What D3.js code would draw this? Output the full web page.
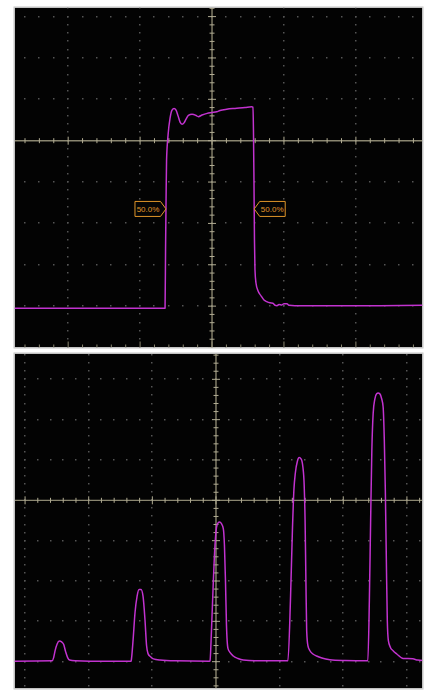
<!DOCTYPE html>
<html>
<head>
<meta charset="utf-8">
<script src="https://cdn.jsdelivr.net/npm/d3@7"></script>
<style>
  body { margin: 0; background: #fff; }
  svg { display: block; }
</style>
</head>
<body>
<script>
// all values in graticule divisions

// top capture: single pulse
const stepTime = [-2.8, -0.653, -0.646, -0.639, -0.632, -0.611, -0.583, -0.556, -0.528, -0.5,
  -0.472, -0.444, -0.417, -0.389, -0.361, -0.329, -0.278, -0.222, -0.19, -0.139,
  -0.069, 0, 0.065, 0.111, 0.204, 0.319, 0.458, 0.551, 0.569, 0.576,
  0.583, 0.59, 0.597, 0.611, 0.639, 0.681, 0.722, 0.76, 0.806, 0.847,
  0.875, 0.903, 0.931, 0.972, 1.0, 1.042, 1.069, 1.153, 1.361, 1.778, 2.333, 2.95];
const stepVolt = [-4.05, -4.05, -2.64, -1.43, -0.47, 0.14, 0.55, 0.74, 0.78, 0.74,
  0.6, 0.45, 0.4, 0.43, 0.52, 0.61, 0.64, 0.61, 0.58, 0.62,
  0.66, 0.68, 0.7, 0.73, 0.76, 0.78, 0.8, 0.82, 0.81, 0.26,
  -0.95, -2.4, -3.12, -3.44, -3.63, -3.75, -3.85, -3.89, -3.92, -3.93,
  -3.98, -3.99, -3.96, -3.97, -3.94, -3.94, -3.98, -3.99, -3.99, -3.99, -3.99, -3.98];
const stepXRange = [-2.746, 2.926];
const stepYRange = [-5, 3.22];
const refLevels = [-4.05, 0.75];   // low / high for the measurement
const refPercent = 50.0;

// bottom capture: burst of five pulses
const burstTime = [-3.2, -2.575, -2.551, -2.527, -2.496, -2.46, -2.425, -2.394, -2.363, -2.331,
  -2.3, -2.214, -1.978, -1.334,
  -1.327, -1.303, -1.272, -1.24, -1.209, -1.177, -1.146, -1.115, -1.091, -1.068,
  -1.028, -0.984, -0.879, -0.644, -0.102,
  -0.094, -0.071, -0.047, -0.016, 0.008, 0.031, 0.055, 0.086, 0.115, 0.133,
  0.149, 0.165, 0.188, 0.22, 0.272, 0.345, 0.429, 0.612, 1.122,
  1.13, 1.17, 1.201, 1.224, 1.248, 1.279, 1.308, 1.339, 1.366, 1.386,
  1.4, 1.413, 1.425, 1.444, 1.476, 1.523, 1.581, 1.664, 1.79, 2.025, 2.378,
  2.386, 2.41, 2.43, 2.449, 2.47, 2.496, 2.524, 2.548, 2.575, 2.601,
  2.626, 2.645, 2.661, 2.677, 2.692, 2.708, 2.739, 2.783, 2.841, 2.94,
  3.014, 3.093, 3.171, 3.26];
const burstVolt = [-3.99, -3.98, -3.9, -3.72, -3.56, -3.49, -3.51, -3.57, -3.75, -3.9,
  -3.96, -3.98, -3.99, -3.99,
  -3.92, -3.47, -2.78, -2.38, -2.21, -2.21, -2.38, -2.98, -3.6, -3.8,
  -3.88, -3.93, -3.96, -3.98, -3.99,
  -3.98, -3.23, -2.23, -1.12, -0.67, -0.56, -0.54, -0.58, -0.7, -1.12,
  -1.99, -3.1, -3.67, -3.77, -3.86, -3.92, -3.96, -3.98, -3.98,
  -3.98, -2.48, -0.74, 0.25, 0.69, 0.97, 1.06, 1.02, 0.82, 0.37,
  -0.5, -1.99, -3.23, -3.6, -3.73, -3.81, -3.86, -3.91, -3.95, -3.97, -3.98,
  -3.98, -2.48, -0.5, 1.24, 2.16, 2.51, 2.64, 2.66, 2.64, 2.53,
  2.32, 1.49, 0.25, -1.49, -2.98, -3.47, -3.64, -3.73, -3.81, -3.92,
  -3.92, -3.93, -3.96, -3.97];
const burstXRange = [-3.166, 3.245];
const burstYRange = [-4.665, 3.64];

const traceColor = '#c233cf';
const gridDot = '#555555';
const axisColor = '#8a8670';
const axisTick = '#b2ad94';
const labelColor = '#e0962a';

const svg = d3.select('body').append('svg')
  .attr('width', 431)
  .attr('height', 690);

function drawPanel(id, box, xDom, yDom, time, volt, edgeTicks) {
  const x = d3.scaleLinear().domain(xDom).range([box.x, box.x + box.w]);
  const y = d3.scaleLinear().domain(yDom).range([box.y + box.h, box.y]);

  svg.append('clipPath').attr('id', id)
    .append('rect')
    .attr('x', box.x).attr('y', box.y)
    .attr('width', box.w).attr('height', box.h);

  const g = svg.append('g').attr('clip-path', `url(#${id})`);

  g.append('rect')
    .attr('x', box.x).attr('y', box.y)
    .attr('width', box.w).attr('height', box.h)
    .attr('fill', '#030303');

  const majX = d3.range(Math.ceil(xDom[0]), Math.floor(xDom[1]) + 1);
  const majY = d3.range(Math.ceil(yDom[0]), Math.floor(yDom[1]) + 1);
  const minX = d3.range(Math.ceil(xDom[0] * 5), Math.floor(xDom[1] * 5) + 1).map(v => v / 5);
  const minY = d3.range(Math.ceil(yDom[0] * 5), Math.floor(yDom[1] * 5) + 1).map(v => v / 5);

  // dotted graticule
  const dots = [];
  majY.filter(v => v !== 0).forEach(r => minX.forEach(c => dots.push([c, r])));
  majX.filter(v => v !== 0).forEach(c => minY.forEach(r => dots.push([c, r])));
  g.append('g').selectAll('rect')
    .data(dots)
    .enter().append('rect')
    .attr('x', d => Math.round(x(d[0])) - 1)
    .attr('y', d => Math.round(y(d[1])) - 1)
    .attr('width', 1.5)
    .attr('height', 1.5)
    .attr('fill', gridDot);

  // centre axes with ticks
  g.append('line')
    .attr('x1', x(0)).attr('x2', x(0))
    .attr('y1', box.y).attr('y2', box.y + box.h)
    .attr('stroke', axisColor).attr('stroke-width', 1.4);
  g.append('line')
    .attr('x1', box.x).attr('x2', box.x + box.w)
    .attr('y1', y(0)).attr('y2', y(0))
    .attr('stroke', axisColor).attr('stroke-width', 1.4);

  const isMajor = v => Math.abs(v - Math.round(v)) < 1e-6;
  g.append('g').selectAll('line')
    .data(minY)
    .enter().append('line')
    .attr('x1', d => x(0) - (isMajor(d) ? 4 : 2.5))
    .attr('x2', d => x(0) + (isMajor(d) ? 4 : 2.5))
    .attr('y1', d => y(d)).attr('y2', d => y(d))
    .attr('stroke', axisTick).attr('stroke-width', 1);
  g.append('g').selectAll('line')
    .data(minX)
    .enter().append('line')
    .attr('x1', d => x(d)).attr('x2', d => x(d))
    .attr('y1', d => y(0) - (isMajor(d) ? 4 : 2.5))
    .attr('y2', d => y(0) + (isMajor(d) ? 4 : 2.5))
    .attr('stroke', axisTick).attr('stroke-width', 1);

  if (edgeTicks) {
    g.append('g').selectAll('line')
      .data(minX)
      .enter().append('line')
      .attr('x1', d => x(d)).attr('x2', d => x(d))
      .attr('y1', box.y + box.h)
      .attr('y2', d => box.y + box.h - (isMajor(d) ? 6 : 3))
      .attr('stroke', axisColor).attr('stroke-width', 1);
  }

  const line = d3.line()
    .x(d => x(d[0]))
    .y(d => y(d[1]))
    .curve(d3.curveMonotoneX);

  g.append('path')
    .datum(d3.zip(time, volt))
    .attr('d', line)
    .attr('fill', 'none')
    .attr('stroke', traceColor)
    .attr('stroke-width', 1.5)
    .attr('stroke-linejoin', 'round');

  svg.append('rect')
    .attr('x', box.x - 0.5).attr('y', box.y - 0.5)
    .attr('width', box.w + 1).attr('height', box.h + 1)
    .attr('fill', 'none')
    .attr('stroke', '#c4c4c4')
    .attr('stroke-width', 1);

  return { x, y };
}

const topScales = drawPanel('clipTop', { x: 14.5, y: 7.5, w: 408, h: 340 },
  stepXRange, stepYRange, stepTime, stepVolt, true);
drawPanel('clipBottom', { x: 14.5, y: 353.5, w: 408, h: 335 },
  burstXRange, burstYRange, burstTime, burstVolt, false);

// 50% crossing markers
const level = refLevels[0] + (refLevels[1] - refLevels[0]) * refPercent / 100;
const crossings = [];
for (let i = 1; i < stepTime.length; i++) {
  const a = stepVolt[i - 1] - level, b = stepVolt[i] - level;
  if (a * b < 0) {
    const t = stepTime[i - 1] + (stepTime[i] - stepTime[i - 1]) * a / (a - b);
    crossings.push({ t, dir: b > a ? 'rise' : 'fall' });
  }
}

const labelText = refPercent.toFixed(1) + '%';
crossings.forEach(c => {
  const cx = topScales.x(c.t), cy = topScales.y(level);
  const s = c.dir === 'rise' ? -1 : 1;   // box sits on the left of a rising edge
  const pts = [[cx, cy], [cx + s * 5.5, cy - 7.5], [cx + s * 31, cy - 7.5],
    [cx + s * 31, cy + 7.5], [cx + s * 5.5, cy + 7.5]];
  svg.append('polygon')
    .attr('points', pts.map(p => p.join(',')).join(' '))
    .attr('fill', '#050505')
    .attr('stroke', labelColor)
    .attr('stroke-width', 1);
  svg.append('text')
    .attr('x', cx + s * 18)
    .attr('y', cy + 3)
    .attr('text-anchor', 'middle')
    .attr('font-family', 'Liberation Sans, Arial, sans-serif')
    .attr('font-size', 8)
    .attr('fill', labelColor)
    .text(labelText);
});
</script>
</body>
</html>
